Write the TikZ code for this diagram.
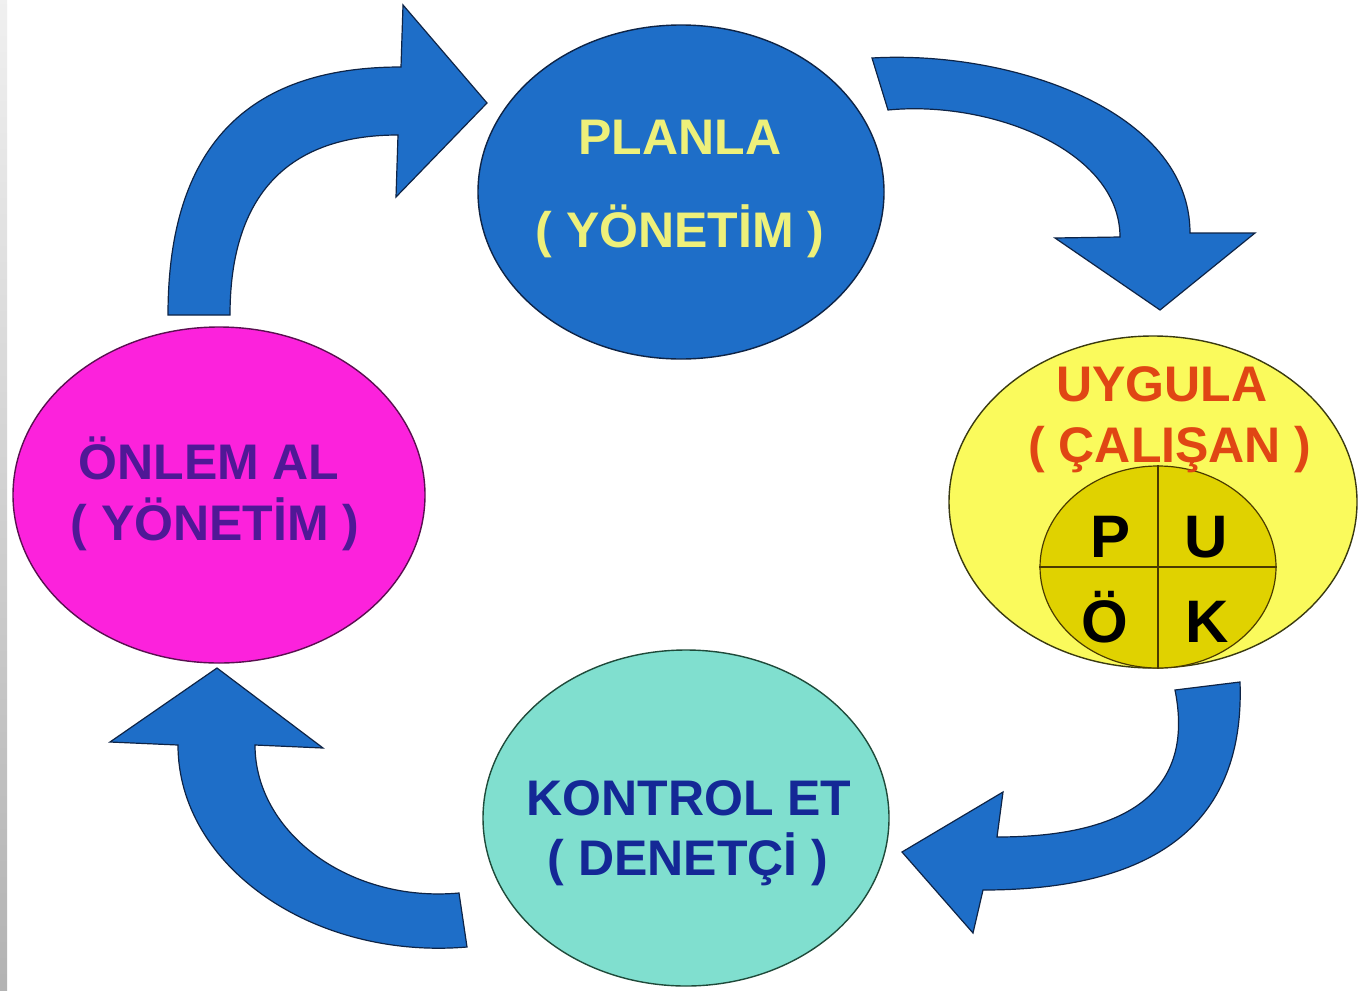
\documentclass[tikz,border=0pt]{standalone}
\usepackage{fontspec}
\setmainfont{Liberation Sans}
\usepackage{xcolor}
\usetikzlibrary{shapes.geometric}

\definecolor{cycleblue}{HTML}{1E6EC8}
\definecolor{cycleedge}{HTML}{0E2446}
\definecolor{planyellow}{HTML}{EEF07A}
\definecolor{doyellow}{HTML}{FAFA5C}
\definecolor{doedge}{HTML}{3A3A10}
\definecolor{doorange}{HTML}{E04614}
\definecolor{pukyellow}{HTML}{E0D200}
\definecolor{pukedge}{HTML}{4A3A00}
\definecolor{checkteal}{HTML}{80DFCF}
\definecolor{checkedge}{HTML}{1F4A3A}
\definecolor{checknavy}{HTML}{142896}
\definecolor{actpink}{HTML}{FC22DC}
\definecolor{actedge}{HTML}{5A1050}
\definecolor{actpurple}{HTML}{501896}

\begin{document}
\begin{tikzpicture}[x=1pt, y=-1pt,
		stage/.style={ellipse, line width=1.4pt, inner sep=0pt},
		lbl/.style={font=\fontsize{50}{60}\selectfont\bfseries, inner sep=0pt, anchor=base},
		letter/.style={font=\fontsize{60}{72}\selectfont\bfseries, inner sep=0pt, anchor=base},
		blockarrow/.style={fill=cycleblue, draw=cycleedge, line width=1.2pt, line join=miter}]
		
		%page frame
		\useasboundingbox (0,0) rectangle (1359,990);
		\fill [white] (0,0) rectangle (1359,990);
		\shade [top color=gray!12, bottom color=gray!60] (0,0) rectangle (7,990);
		
		%the four stages
		\node [stage, draw=cycleedge, fill=cycleblue, minimum width=406pt, minimum height=334pt] (plan) at (681,192) {};
		\node [stage, draw=doedge, fill=doyellow, minimum width=408pt, minimum height=332pt] (do) at (1153,502) {};
		\node [stage, draw=checkedge, fill=checkteal, minimum width=406pt, minimum height=336pt] (check) at (686,818) {};
		\node [stage, draw=actedge, fill=actpink, minimum width=412pt, minimum height=336pt] (act) at (219,495) {};
		
		%small cycle inside the yellow stage
		\node [stage, draw=pukedge, line width=1.2pt, fill=pukyellow, minimum width=236pt, minimum height=202pt] (puk) at (1158,567) {};
		\draw [pukedge, line width=1.2pt] (puk.north) -- (puk.south);
		\draw [pukedge, line width=1.2pt] (puk.west) -- (puk.east);
		\node [letter] (pukP) at (1110,557) {P};
		\node [letter] (pukU) at (1206,557) {U};
		\node [letter] (pukO) at (1105,642) {Ö};
		\node [letter] (pukK) at (1207,642) {K};
		
		%labels
		\node [lbl, text=doorange] (do1) at (1162,401) {UYGULA};
		\node [lbl, text=doorange] (do2) at (1170,462) {( ÇALIŞAN )};
		\node [lbl, text=planyellow] (plan1) at (680,154) {PLANLA};
		\node [lbl, text=planyellow] (plan2) at (680,247) {( YÖNETİM )};
		\node [lbl, text=checknavy] (check1) at (689,815) {KONTROL ET};
		\node [lbl, text=checknavy] (check2) at (688,875) {( DENETÇİ )};
		\node [lbl, text=actpurple] (act1) at (209,479) {ÖNLEM AL};
		\node [lbl, text=actpurple] (act2) at (215,540) {( YÖNETİM )};
		
		%arrows between the stages
		\draw [blockarrow] (168,315) .. controls (168,149) and (245,67) .. (401,67)
			-- (403,5) -- (487,103) -- (396,197) -- (398,135)
			.. controls (289,135) and (230,194) .. (230,315) -- cycle;
		\draw [blockarrow] (872,58) .. controls (1010,50) and (1190,110) .. (1190,233)
			-- (1255,233) -- (1160,310) -- (1055,238) -- (1120,237)
			.. controls (1120,150) and (990,100) .. (888,110) -- cycle;
		\draw [blockarrow] (1240,682) .. controls (1245,820) and (1160,890) .. (983,890)
			-- (973,933) -- (902,852) -- (1003,792) -- (997,837)
			.. controls (1130,837) and (1195,790) .. (1175,690) -- cycle;
		\draw [blockarrow] (467,947) .. controls (313,960) and (178,866) .. (178,745)
			-- (110,742) -- (217,668) -- (323,748) -- (255,745)
			.. controls (255,833) and (350,903) .. (459,893) -- cycle;
	\end{tikzpicture}
\end{document}
